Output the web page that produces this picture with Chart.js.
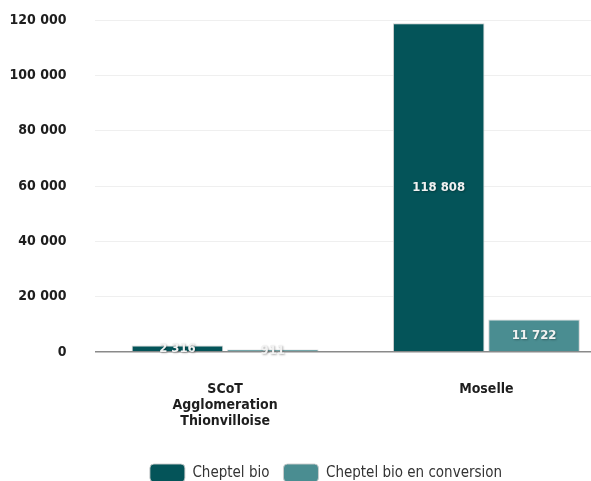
<!DOCTYPE html>
<html>
<head>
<meta charset="utf-8">
<script src="https://cdn.jsdelivr.net/npm/chart.js@4"></script>
<style>
  html, body { margin: 0; padding: 0; background: #fff; }
  /* the original chart is cropped on the right and at the bottom */
  #frame { width: 591px; height: 481px; overflow: hidden; position: relative; }
  #wrap { width: 617px; height: 492px; position: relative; }
</style>
</head>
<body>
<div id="frame"><div id="wrap"><canvas id="cheptel-chart"></canvas></div></div>
<script>
// Chart data
const categories = [["SCoT", "Agglomeration", "Thionvilloise"], "Moselle"];
const seriesLabels = ["Cheptel bio", "Cheptel bio en conversion"];
const cheptelBio = [2316, 118808];
const cheptelConversion = [911, 11722];
const yTicks = [0, 20000, 40000, 60000, 80000, 100000, 120000];

const colors = ["#045459", "#4a8d91"];
const fontFamily = "'DejaVu Sans Condensed', 'DejaVu Sans', sans-serif";

// "118808" -> "118 808"
function fmt(v) {
  return String(Math.round(v)).replace(/\B(?=(\d{3})+(?!\d))/g, " ");
}

// Draw the value in the middle of each bar
const barValues = {
  id: "barValues",
  afterDatasetsDraw(chart) {
    const ctx = chart.ctx;
    ctx.save();
    ctx.font = "bold 13px " + fontFamily;
    ctx.textAlign = "center";
    ctx.textBaseline = "middle";
    ctx.shadowColor = "rgba(0, 0, 0, 0.3)";
    ctx.shadowBlur = 2;
    ctx.shadowOffsetX = 1;
    ctx.shadowOffsetY = 1;
    chart.data.datasets.forEach((ds, i) => {
      chart.getDatasetMeta(i).data.forEach((bar, j) => {
        const y = (bar.y + bar.base) / 2;
        ctx.fillStyle = "#f2f2f2";
        ctx.fillText(fmt(ds.data[j]), bar.x, y);
      });
    });
    ctx.restore();
  },
};

// legend is centred a bit right of the canvas middle in the original
const legendShift = {
  id: "legendShift",
  afterLayout(chart) {
    if (chart.legend) chart.legend.left = 35;
  },
};

const config = {
  type: "bar",
  data: {
    labels: categories,
    datasets: [
      {
        label: seriesLabels[0],
        data: cheptelBio,
        backgroundColor: colors[0],
        borderColor: "rgba(205, 205, 205, 0.9)",
        borderWidth: 1,
        categoryPercentage: 0.73,
        barPercentage: 0.96,
      },
      {
        label: seriesLabels[1],
        data: cheptelConversion,
        backgroundColor: colors[1],
        borderColor: "rgba(205, 205, 205, 0.9)",
        borderWidth: 1,
        categoryPercentage: 0.73,
        barPercentage: 0.96,
      },
    ],
  },
  options: {
    responsive: true,
    maintainAspectRatio: false,
    animation: false,
    layout: {
      padding: { left: 0, right: 0, top: 20, bottom: 0 },
    },
    plugins: {
      legend: {
        position: "bottom",
        labels: {
          color: "#333",
          boxWidth: 35,
          boxHeight: 18,
          padding: 14,
          useBorderRadius: true,
          borderRadius: 4,
          font: { family: fontFamily, size: 15 },
        },
      },
      tooltip: { enabled: false },
    },
    scales: {
      x: {
        grid: { display: false },
        border: { display: false },
        ticks: {
          color: "#1e1e1e",
          padding: 21,
          font: { family: fontFamily, size: 14, weight: "bold", lineHeight: 1.15 },
        },
        afterFit: (scale) => {
          scale.height = 98;
        },
      },
      y: {
        min: 0,
        max: 120000,
        border: { display: false },
        grid: {
          drawTicks: true,
          tickLength: 28,
          tickColor: "rgba(0, 0, 0, 0)",
          color: (c) => (c.tick && c.tick.value === 0 ? "#8a8a8a" : "#efefef"),
          lineWidth: (c) => (c.tick && c.tick.value === 0 ? 1.5 : 1),
        },
        afterBuildTicks: (scale) => {
          scale.ticks = yTicks.map((v) => ({ value: v }));
        },
        ticks: {
          color: "#1e1e1e",
          padding: 0,
          font: { family: fontFamily, size: 14, weight: "bold" },
          callback: (v) => fmt(v),
        },
        afterFit: (scale) => {
          scale.width = 94.5;
        },
      },
    },
  },
  plugins: [barValues, legendShift],
};

new Chart(document.getElementById("cheptel-chart"), config);
</script>
</body>
</html>
